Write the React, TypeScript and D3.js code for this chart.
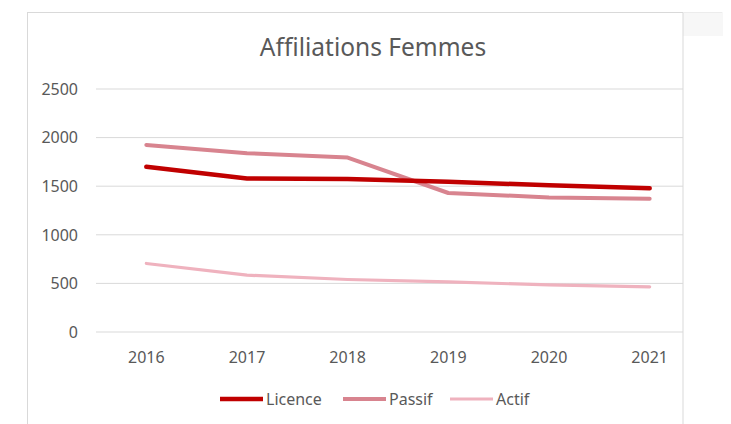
import React from "react";
import { scaleBand, scaleLinear, line } from "d3";

const width = 731;
const height = 424;

// plot area in page pixels
const plot = { left: 96, right: 700, top: 89, bottom: 332 };
const frameRight = 683;

const years = ["2016", "2017", "2018", "2019", "2020", "2021"];
const yTicks = [0, 500, 1000, 1500, 2000, 2500];

const licence = [1700, 1580, 1575, 1545, 1510, 1480];
const passif = [1925, 1840, 1795, 1430, 1385, 1370];
const actif = [705, 585, 540, 515, 485, 465];

const seriesNames = ["Licence", "Passif", "Actif"];
const seriesColors = ["#c00000", "#d8848f", "#efb2be"];
const seriesWidths = [4.5, 4, 3.2];

const font = "'Noto Sans', sans-serif";
const textColor = "#595959";

export default function App() {
  const xScale = scaleBand().domain(years).range([plot.left, plot.right]);
  const yScale = scaleLinear().domain([0, 2500]).range([plot.bottom, plot.top]);

  const cx = (y: string) => (xScale(y) as number) + xScale.bandwidth() / 2;

  const makeLine = line<number>()
    .x((_, i) => cx(years[i]))
    .y((d) => yScale(d));

  const allSeries = [licence, passif, actif];

  // legend layout
  const legendY = 399;
  const legendItems = [
    { x: 220, textX: 266 },
    { x: 343, textX: 389 },
    { x: 450, textX: 496 },
  ];

  return (
    <svg
      width={width}
      height={height}
      style={{ position: "fixed", left: 0, top: 0, background: "#fff" }}
    >
      {/* faint strip right of the chart, as in the screenshot */}
      <rect x={frameRight} y={12} width={40} height={24} fill="#f7f7f7" />

      {/* chart frame */}
      <rect
        x={27.5}
        y={12.5}
        width={frameRight - 27.5}
        height={height}
        fill="#fff"
        stroke="#d9d9d9"
      />
      <line x1={frameRight} x2={722} y1={12.5} y2={12.5} stroke="#ececec" />

      <text
        x={373}
        y={56}
        textAnchor="middle"
        fontFamily={font}
        fontSize={24.5}
        fill={textColor}
      >
        Affiliations Femmes
      </text>

      {/* gridlines + y labels */}
      {yTicks.map((t) => (
        <g key={t}>
          <line
            x1={plot.left}
            x2={frameRight}
            y1={yScale(t)}
            y2={yScale(t)}
            stroke="#d9d9d9"
          />
          <text
            x={78}
            y={yScale(t)}
            dy="0.36em"
            textAnchor="end"
            fontFamily={font}
            fontSize={16}
            fill={textColor}
          >
            {t}
          </text>
        </g>
      ))}

      {/* x labels */}
      {years.map((y) => (
        <text
          key={y}
          x={cx(y)}
          y={363}
          textAnchor="middle"
          fontFamily={font}
          fontSize={16}
          fill={textColor}
        >
          {y}
        </text>
      ))}

      {/* series lines, drawn back to front */}
      {[2, 1, 0].map((i) => (
        <path
          key={seriesNames[i]}
          d={makeLine(allSeries[i]) as string}
          fill="none"
          stroke={seriesColors[i]}
          strokeWidth={seriesWidths[i]}
          strokeLinejoin="round"
          strokeLinecap="round"
        />
      ))}

      {/* legend */}
      {seriesNames.map((name, i) => (
        <g key={name}>
          <line
            x1={legendItems[i].x}
            x2={legendItems[i].x + 43}
            y1={legendY}
            y2={legendY}
            stroke={seriesColors[i]}
            strokeWidth={seriesWidths[i]}
          />
          <text
            x={legendItems[i].textX}
            y={legendY}
            dy="0.36em"
            fontFamily={font}
            fontSize={16}
            fill={textColor}
          >
            {name}
          </text>
        </g>
      ))}
    </svg>
  );
}
